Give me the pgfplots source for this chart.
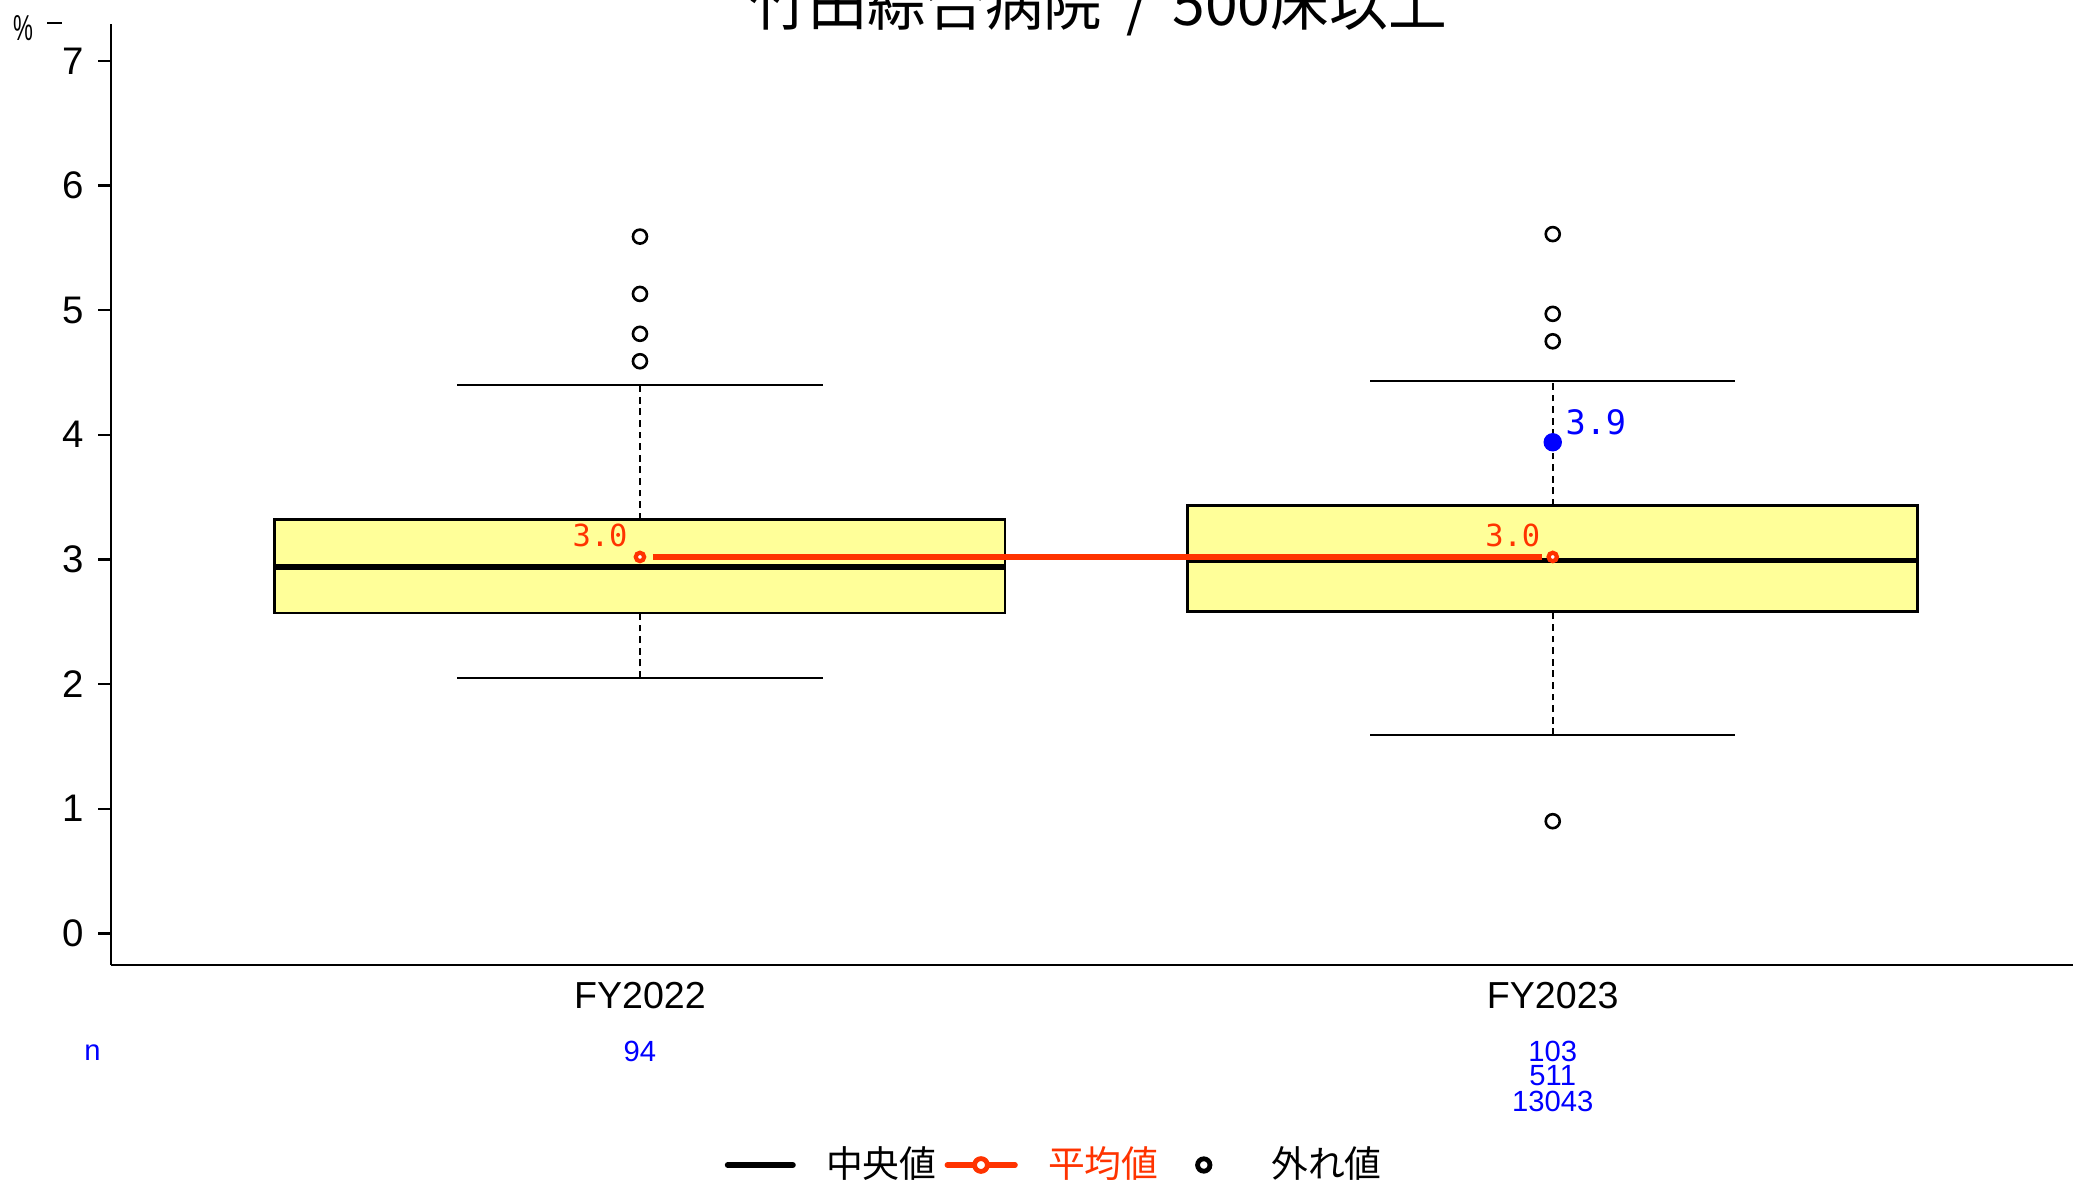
\documentclass[border=0pt]{standalone}
\usepackage{graphicx}
\usepackage{pgfplots}
\pgfplotsset{compat=1.18}
\usepgfplotslibrary{statistics}
\usepackage{fontspec}
\setmainfont{Liberation Sans}
\newfontfamily\cjk{Noto Sans CJK JP}
\newfontfamily\monofont{DejaVu Sans Mono}
\definecolor{boxyellow}{HTML}{FFFF99}
\definecolor{meanred}{HTML}{FF3300}
\begin{document}
\begin{tikzpicture}
\useasboundingbox (0pt,0pt) rectangle (518.25pt,-296pt);
% title (clipped at top as in the reference)
\node[font=\cjk\fontsize{14.7}{18}\selectfont, anchor=base, inner sep=0pt] at (274.6pt,-6.3pt)
  {竹田綜合病院\hspace{0.4em}/\hspace{0.4em}500床以上};
% unit label
\node[font=\fontsize{9}{10}\selectfont, inner sep=0pt] at (5.75pt,-7pt) {\scalebox{0.62}[1]{\%}};
\draw[line width=0.5pt] (11.75pt,-5.85pt) -- (15.5pt,-5.85pt);
\begin{axis}[
  at={(27.775pt,-241.25pt)}, anchor=south west,
  scale only axis, width=490.475pt, height=235.3pt,
  xmin=0.4206, xmax=2.570, ymin=-0.2535, ymax=7.297,
  axis x line*=bottom, axis y line*=left,
  axis line style={line width=0.6pt, -},
  xtick={1,2}, xticklabels={FY2022,FY2023},
  ytick={0,1,2,3,4,5,6,7},
  /pgf/number format/assume math mode=true,
  tick align=outside, major tick length=3.25pt,
  tick style={black, line width=0.6pt},
  xtick style={draw=none},
  tick label style={font=\fontsize{9.6}{11}\selectfont, inner sep=0pt},
  xticklabel style={font=\fontsize{9.4}{11}\selectfont, yshift=-0.75pt},
  yticklabel style={xshift=-3.4pt},
  clip=false,
  boxplot/draw direction=y,
  boxplot/every box/.style={fill=boxyellow, draw=black, line width=0.7pt},
  boxplot/every median/.style={draw=black, line width=1.3pt},
  boxplot/draw/lower whisker/.code={%
    \draw[black, line width=0.55pt, dash pattern=on 1.7pt off 1.2pt]
      (boxplot cs:\pgfplotsboxplotvalue{lower whisker}) -- (boxplot cs:\pgfplotsboxplotvalue{lower quartile});
    \draw[black, line width=0.55pt, solid]
      (boxplot whisker cs:\pgfplotsboxplotvalue{lower whisker},0) -- (boxplot whisker cs:\pgfplotsboxplotvalue{lower whisker},1);
  },
  boxplot/draw/upper whisker/.code={%
    \draw[black, line width=0.55pt, dash pattern=on 1.7pt off 1.2pt]
      (boxplot cs:\pgfplotsboxplotvalue{upper quartile}) -- (boxplot cs:\pgfplotsboxplotvalue{upper whisker});
    \draw[black, line width=0.55pt, solid]
      (boxplot whisker cs:\pgfplotsboxplotvalue{upper whisker},0) -- (boxplot whisker cs:\pgfplotsboxplotvalue{upper whisker},1);
  },
  legend columns=3,
  legend cell align=left,
  legend style={at={(0.3124,-0.2125)}, anchor=west, draw=none, fill=none, inner sep=0pt,
    font=\cjk\fontsize{9.2}{11}\selectfont,
    nodes={inner sep=0pt},
    /tikz/every odd column/.append style={column sep=7.6pt},
    /tikz/every even column/.append style={column sep=2.0pt}},
]
% FY2022
\addplot[forget plot, mark=o, mark size=1.75pt, mark options={black, line width=0.65pt, solid},
  boxplot prepared={draw position=1, lower whisker=2.05, lower quartile=2.57, median=2.94,
    upper quartile=3.32, upper whisker=4.40, box extend=0.8, whisker extend=0.4}]
  table[row sep=\\, y index=0] {5.59\\ 5.13\\ 4.81\\ 4.59\\};
% FY2023
\addplot[forget plot, mark=o, mark size=1.75pt, mark options={black, line width=0.65pt, solid},
  boxplot prepared={draw position=2, lower whisker=1.59, lower quartile=2.58, median=2.99,
    upper quartile=3.43, upper whisker=4.43, box extend=0.8, whisker extend=0.4}]
  table[row sep=\\, y index=0] {5.61\\ 4.97\\ 4.75\\ 0.90\\};
% mean line
\addplot[forget plot, meanred, line width=1.5pt, shorten <=3.2pt, shorten >=2.6pt]
  coordinates {(1,3.02) (2,3.02)};
\addplot[forget plot, only marks, mark=*, mark size=1.05pt,
  mark options={draw=meanred, fill=white, line width=1.05pt},
  nodes near coords, point meta=explicit symbolic,
  every node near coord/.style={anchor=south east, text=meanred, inner sep=0pt,
    font=\monofont\fontsize{7.6}{9}\selectfont, xshift=-2.6pt, yshift=2.0pt}]
  coordinates {(1,3.02) [3.0] (2,3.02) [3.0]};
% own hospital value
\addplot[forget plot, only marks, mark=*, mark size=2.1pt, mark options={draw=blue, fill=blue},
  nodes near coords, point meta=explicit symbolic,
  every node near coord/.style={anchor=south west, text=blue, inner sep=0pt,
    font=\monofont\fontsize{8.4}{9}\selectfont, xshift=3.0pt, yshift=1.5pt}]
  coordinates {(2,3.94) [3.9]};
% n labels
\node[text=blue, font=\fontsize{7.3}{8}\selectfont, inner sep=0pt] at (axis cs:0.4002,-0.955) {n};
\node[text=blue, font=\fontsize{7.3}{8}\selectfont, inner sep=0pt] at (axis cs:1,-0.9434) {94};
\node[text=blue, font=\fontsize{7.3}{8}\selectfont, inner sep=0pt] at (axis cs:2,-0.9434) {103};
\node[text=blue, font=\fontsize{7.3}{8}\selectfont, inner sep=0pt] at (axis cs:2,-1.1439) {511};
\node[text=blue, font=\fontsize{7.3}{8}\selectfont, inner sep=0pt] at (axis cs:2,-1.3445) {13043};
% legend
\addlegendimage{legend image code/.code={\draw[black, line width=1.5pt, line cap=round] (0.75pt,0pt) -- (17pt,0pt);}}
\addlegendentry{中央値}
\addlegendimage{legend image code/.code={\draw[meanred, line width=1.4pt, line cap=round] (0.7pt,0pt) -- (17.6pt,0pt);
  \draw[meanred, line width=1.2pt, fill=white] (9.1pt,0pt) circle (1.6pt);}}
\addlegendentry[text=meanred]{平均値}
\addlegendimage{legend image code/.code={\path[draw=none, fill=none] (0pt,0pt) -- (18.6pt,0pt);
  \draw[black, line width=1.2pt, fill=none] (9.3pt,0pt) circle (1.55pt);}}
\addlegendentry{外れ値}
\end{axis}
\end{tikzpicture}
\end{document}
